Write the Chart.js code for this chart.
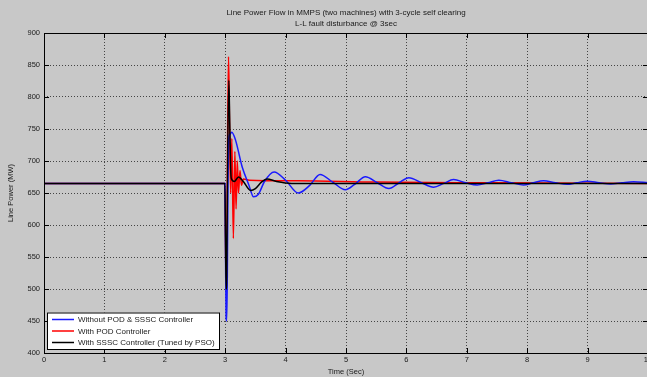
<!DOCTYPE html>
<html>
<head>
<meta charset="utf-8">
<script src="https://cdn.jsdelivr.net/npm/chart.js@4.4.1/dist/chart.umd.min.js"></script>
<style>
    html, body { margin: 0; padding: 0; background: #c8c8c8; overflow: hidden; }
    #wrap { position: relative; width: 700px; height: 377px; }
</style>
</head>
<body>
<div id="wrap"><canvas id="powerChart"></canvas></div>
<script>
const titleLines = ['Line Power Flow in MMPS (two machines) with 3-cycle self clearing', 'L-L fault disturbance @ 3sec'];
const seriesLabels = ['Without POD & SSSC Controller', 'With POD Controller', 'With SSSC Controller (Tuned by PSO)'];
const xTicks = [0, 1, 2, 3, 4, 5, 6, 7, 8, 9, 10];
const yTicks = [400, 450, 500, 550, 600, 650, 700, 750, 800, 850, 900];

// without POD & SSSC (blue)
const blueTime = [0, 2.995, 3.005, 3.015, 3.025, 3.035, 3.045, 3.06, 3.08, 3.11, 3.17, 3.28, 3.39, 3.47, 3.55, 3.65, 3.81, 4.0, 4.21, 4.4, 4.57, 4.78, 4.99, 5.15, 5.32, 5.52, 5.71, 5.88, 6.04, 6.25, 6.45, 6.62, 6.78, 6.98, 7.17, 7.35, 7.53, 7.74, 7.94, 8.1, 8.27, 8.47, 8.66, 8.82, 8.99, 9.19, 9.38, 9.57, 9.76, 10];
const blueVal = [665, 665, 560, 455, 450, 520, 650, 735, 742, 745, 733, 691, 663, 644, 648, 668, 683, 670, 650, 662, 679, 667, 655, 664, 675.5, 666, 657, 666, 674, 666, 659, 665, 671, 666, 662.5, 666, 670, 666, 662.5, 666, 669, 666, 663.5, 666, 668.5, 666, 664, 666, 667.5, 666];

// with POD (red)
const redTime = [0, 2.995, 3.005, 3.015, 3.025, 3.04, 3.055, 3.07, 3.09, 3.11, 3.135, 3.16, 3.18, 3.2, 3.22, 3.245, 3.27, 3.3, 3.4, 4.2, 5.5, 7.4, 10];
const redVal = [665, 665, 580, 498, 520, 740, 863, 770, 650, 735, 579, 715, 625, 700, 650, 685, 662, 672, 670, 669, 667, 666, 665];

// with SSSC tuned by PSO (black)
const blackTime = [0, 2.995, 3.005, 3.015, 3.025, 3.04, 3.06, 3.075, 3.09, 3.1, 3.15, 3.22, 3.3, 3.42, 3.5, 3.6, 3.69, 3.85, 4.1, 10];
const blackVal = [665, 665, 580, 500, 520, 700, 826, 760, 690, 673, 668, 675, 668, 654, 657, 667, 672, 668, 665, 665];

const toPoints = (t, v) => t.map((x, i) => ({ x: x, y: v[i] }));

const FONT = '"Liberation Sans", Arial, sans-serif';
const TEXT = '#1a1a1a';

const framePlugin = {
    id: 'frame',
    afterDraw(chart) {
        const ctx = chart.ctx;
        const area = chart.chartArea;
        const xs = chart.scales.x;
        const ys = chart.scales.y;
        ctx.save();
        // box
        ctx.strokeStyle = '#000';
        ctx.lineWidth = 1;
        ctx.strokeRect(area.left + 0.5, area.top + 0.5, area.right - area.left, area.bottom - area.top);
        // inward ticks
        ctx.beginPath();
        xTicks.forEach(v => {
            const px = Math.round(xs.getPixelForValue(v)) + 0.5;
            ctx.moveTo(px, area.bottom); ctx.lineTo(px, area.bottom - 5);
            ctx.moveTo(px, area.top); ctx.lineTo(px, area.top + 5);
        });
        yTicks.forEach(v => {
            const py = Math.round(ys.getPixelForValue(v)) + 0.5;
            ctx.moveTo(area.left, py); ctx.lineTo(area.left + 5, py);
            ctx.moveTo(area.right, py); ctx.lineTo(area.right - 5, py);
        });
        ctx.stroke();

        // title
        ctx.fillStyle = TEXT;
        ctx.font = '8px ' + FONT;
        ctx.textAlign = 'center';
        ctx.textBaseline = 'middle';
        const cx = (area.left + area.right) / 2;
        ctx.fillText(titleLines[0], cx, 12.5);
        ctx.fillText(titleLines[1], cx, 23.5);

        // legend box
        const lx = 47, ly = 312.5, lw = 172, lh = 36.5;
        ctx.fillStyle = '#fff';
        ctx.fillRect(lx, ly, lw, lh);
        ctx.strokeStyle = '#000';
        ctx.strokeRect(lx + 0.5, ly + 0.5, lw, lh);
        ctx.font = '8px ' + FONT;
        ctx.textAlign = 'left';
        chart.data.datasets.forEach((ds, i) => {
            const y = 319.5 + i * 11.5;
            ctx.strokeStyle = ds.borderColor;
            ctx.lineWidth = 1.5;
            ctx.beginPath();
            ctx.moveTo(52, y); ctx.lineTo(74, y);
            ctx.stroke();
            ctx.fillStyle = TEXT;
            ctx.fillText(ds.label, 78, y + 0.5);
        });
        ctx.restore();
    }
};

new Chart(document.getElementById('powerChart'), {
    type: 'line',
    data: {
        datasets: [
            { label: seriesLabels[0], data: toPoints(blueTime, blueVal), borderColor: '#1a1aff', order: 1 },
            { label: seriesLabels[1], data: toPoints(redTime, redVal), borderColor: '#ff0000', order: 2 },
            { label: seriesLabels[2], data: toPoints(blackTime, blackVal), borderColor: '#000000', order: 0 }
        ]
    },
    options: {
        responsive: true,
        maintainAspectRatio: false,
        animation: false,
        layout: { padding: { top: 33, right: 52, left: 0, bottom: 0 } },
        elements: {
            point: { radius: 0 },
            line: { borderWidth: 1.5, cubicInterpolationMode: 'monotone', fill: false }
        },
        plugins: {
            legend: { display: false },
            title: { display: false },
            tooltip: { enabled: false }
        },
        scales: {
            x: {
                type: 'linear',
                min: 0,
                max: 10,
                afterFit: s => { s.height = 24; },
                afterBuildTicks: s => { s.ticks = xTicks.map(v => ({ value: v })); },
                ticks: { color: TEXT, font: { family: FONT, size: 7.5 }, padding: 2, maxRotation: 0 },
                grid: { color: '#444', drawTicks: false, lineWidth: 1 },
                border: { display: false, dash: [1, 2] },
                title: { display: true, text: 'Time (Sec)', color: TEXT, font: { family: FONT, size: 7.5 }, padding: { top: 0, bottom: 1 } }
            },
            y: {
                min: 400,
                max: 900,
                afterFit: s => { s.width = 44; },
                afterBuildTicks: s => { s.ticks = yTicks.map(v => ({ value: v })); },
                ticks: { color: TEXT, font: { family: FONT, size: 7.5 }, padding: 4 },
                grid: { color: '#444', drawTicks: false, lineWidth: 1 },
                border: { display: false, dash: [1, 2] },
                title: { display: true, text: 'Line Power (MW)', color: TEXT, font: { family: FONT, size: 7.5 }, padding: { top: 6, bottom: 0 } }
            }
        }
    },
    plugins: [framePlugin]
});
</script>
</body>
</html>
